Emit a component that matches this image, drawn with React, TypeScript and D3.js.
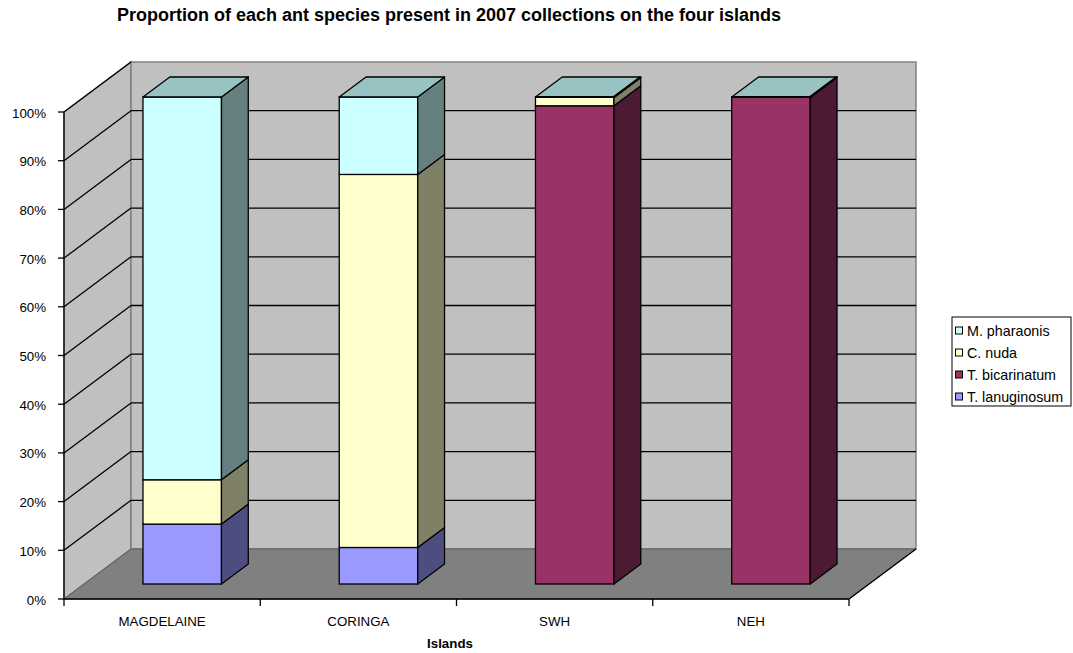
import React from "react";
import * as d3 from "d3";

// Islands sampled in 2007 and proportional share of each species (stack order bottom → top)
const islands = ["MAGDELAINE", "CORINGA", "SWH", "NEH"];
const tLanuginosum = [0.123, 0.075, 0, 0];
const tBicarinatum = [0, 0, 0.982, 1.0];
const cNuda = [0.091, 0.766, 0.018, 0];
const mPharaonis = [0.786, 0.159, 0, 0];

const yTicks = [0, 0.1, 0.2, 0.3, 0.4, 0.5, 0.6, 0.7, 0.8, 0.9, 1.0];

const seriesNames = ["T. lanuginosum", "T. bicarinatum", "C. nuda", "M. pharaonis"];
const seriesValues = [tLanuginosum, tBicarinatum, cNuda, mPharaonis];
const legendOrder = ["M. pharaonis", "C. nuda", "T. bicarinatum", "T. lanuginosum"];

const colors: Record<string, { front: string; side: string; top: string }> = {
  "T. lanuginosum": { front: "#9999FF", side: "#4D4D80", top: "#7373BF" },
  "T. bicarinatum": { front: "#993366", side: "#4C1A33", top: "#73264D" },
  "C. nuda": { front: "#FFFFCC", side: "#808066", top: "#BFBF99" },
  "M. pharaonis": { front: "#CCFFFF", side: "#668080", top: "#99C2C2" },
};

const W = 1073;
const H = 653;

// Plot geometry (front plane) and the 3D depth vector
const x0 = 64;
const x1 = 849;
const depthX = 67;
const depthY = -50;
const barFront = 0.3;
const barBack = 0.7;

export default function App() {
  const x = d3.scaleBand<string>().domain(islands).range([x0, x1]).paddingInner(0.6).paddingOuter(0.3);
  const y = d3.scaleLinear().domain([0, 1]).range([599, 112]);
  const step = x.step();
  const yTop = y(1);
  const yBase = y(0);

  const font = "Arial, 'Liberation Sans', sans-serif";

  // offset of a plane lying at a given depth fraction
  const off = (f: number) => [depthX * f, depthY * f];
  const [fx, fy] = off(barFront);
  const [bx, by] = off(barBack);
  const ddx = bx - fx;
  const ddy = by - fy;

  const pts = (arr: number[][]) => arr.map((p) => p.join(",")).join(" ");

  const bars = islands.map((isl, i) => {
    const left = (x(isl) as number) + fx;
    const w = x.bandwidth();
    let cum = 0;
    const segs: React.ReactNode[] = [];
    const topIdx = seriesValues.length - 1;
    seriesValues.forEach((vals, s) => {
      const v = vals[i];
      const lo = cum;
      const hi = cum + v;
      cum = hi;
      const name = seriesNames[s];
      const c = colors[name];
      if (v <= 0) return;
      const yl = y(lo) + fy;
      const yh = y(hi) + fy;
      segs.push(
        <g key={name}>
          <rect x={left} y={yh} width={w} height={yl - yh} fill={c.front} stroke="#000" strokeWidth={1.3} />
          <polygon
            points={pts([
              [left + w, yl],
              [left + w + ddx, yl + ddy],
              [left + w + ddx, yh + ddy],
              [left + w, yh],
            ])}
            fill={c.side}
            stroke="#000"
            strokeWidth={1.3}
            strokeLinejoin="round"
          />
        </g>
      );
    });
    // top face takes the colour of the uppermost series
    const tc = colors[seriesNames[topIdx]];
    const yt = y(cum) + fy;
    segs.push(
      <polygon
        key="top"
        points={pts([
          [left, yt],
          [left + ddx, yt + ddy],
          [left + w + ddx, yt + ddy],
          [left + w, yt],
        ])}
        fill={tc.top}
        stroke="#000"
        strokeWidth={1.3}
        strokeLinejoin="round"
      />
    );
    if (mPharaonis[i] === 0) {
      segs.push(<line key="zero" x1={left} x2={left + w} y1={yt} y2={yt} stroke="#000" strokeWidth={2.2} />);
      segs.push(
        <line key="zero2" x1={left + w} x2={left + w + ddx} y1={yt} y2={yt + ddy} stroke="#000" strokeWidth={2.2} />
      );
    }
    return <g key={isl}>{segs}</g>;
  });

  const legendX = 952;
  const legendY = 317;

  return (
    <svg width={W} height={H} style={{ position: "absolute", left: 0, top: 0, background: "#fff" }}>
      <text x={449} y={21} textAnchor="middle" fontFamily={font} fontWeight="bold" fontSize={18} fill="#000">
        Proportion of each ant species present in 2007 collections on the four islands
      </text>

      {/* left side wall */}
      <polygon
        points={pts([
          [x0, yTop],
          [x0 + depthX, yTop + depthY],
          [x0 + depthX, yBase + depthY],
          [x0, yBase],
        ])}
        fill="#C0C0C0"
        stroke="#808080"
        strokeWidth={1.5}
      />
      {/* back wall */}
      <rect
        x={x0 + depthX}
        y={yTop + depthY}
        width={x1 - x0}
        height={yBase - yTop}
        fill="#C0C0C0"
        stroke="#808080"
        strokeWidth={1.5}
      />
      {/* floor */}
      <polygon
        points={pts([
          [x0, yBase],
          [x0 + depthX, yBase + depthY],
          [x1 + depthX, yBase + depthY],
          [x1, yBase],
        ])}
        fill="#808080"
        stroke="#5a5a5a"
        strokeWidth={1}
      />
      <line x1={x1} y1={yBase} x2={x1 + depthX} y2={yBase + depthY} stroke="#000" strokeWidth={1.3} />

      {/* gridlines on walls */}
      {yTicks
        .filter((t) => t > 0)
        .map((t) => (
          <g key={t}>
            <line x1={x0} y1={y(t)} x2={x0 + depthX} y2={y(t) + depthY} stroke="#000" strokeWidth={1.3} />
            {t < 1 && (
              <line
                x1={x0 + depthX}
                y1={y(t) + depthY}
                x2={x1 + depthX}
                y2={y(t) + depthY}
                stroke="#000"
                strokeWidth={1.3}
              />
            )}
          </g>
        ))}

      {bars}

      {/* value axis */}
      <line x1={x0} y1={yTop} x2={x0} y2={yBase} stroke="#000" strokeWidth={1.3} />
      {yTicks.map((t) => (
        <g key={t}>
          <line x1={x0 - 6} x2={x0} y1={y(t)} y2={y(t)} stroke="#000" strokeWidth={1.3} />
          <text x={x0 - 18} y={y(t) + 5.5} textAnchor="end" fontFamily={font} fontSize={13.3} fill="#000">
            {d3.format(".0%")(t)}
          </text>
        </g>
      ))}

      {/* category axis */}
      <line x1={x0} y1={yBase} x2={x1} y2={yBase} stroke="#000" strokeWidth={1.5} />
      {d3.range(islands.length + 1).map((k) => (
        <line key={k} x1={x0 + k * step} x2={x0 + k * step} y1={yBase} y2={yBase + 7} stroke="#000" strokeWidth={1.3} />
      ))}
      {islands.map((isl) => (
        <text
          key={isl}
          x={(x(isl) as number) + x.bandwidth() / 2}
          y={626}
          textAnchor="middle"
          fontFamily={font}
          fontSize={13.3}
          fill="#000"
        >
          {isl}
        </text>
      ))}
      <text x={450} y={648} textAnchor="middle" fontFamily={font} fontWeight="bold" fontSize={13.3} fill="#000">
        Islands
      </text>

      {/* legend */}
      <rect x={legendX} y={legendY} width={119} height={89} fill="#fff" stroke="#000" strokeWidth={1} />
      {legendOrder.map((name, k) => (
        <g key={name}>
          <rect x={legendX + 3.5} y={legendY + 10 + k * 22} width={7} height={7} fill={colors[name].front} stroke="#000" strokeWidth={1} />
          <text x={legendX + 15} y={legendY + 19} dy={k * 22} fontFamily={font} fontSize={14.3} fill="#000">
            {name}
          </text>
        </g>
      ))}
    </svg>
  );
}
